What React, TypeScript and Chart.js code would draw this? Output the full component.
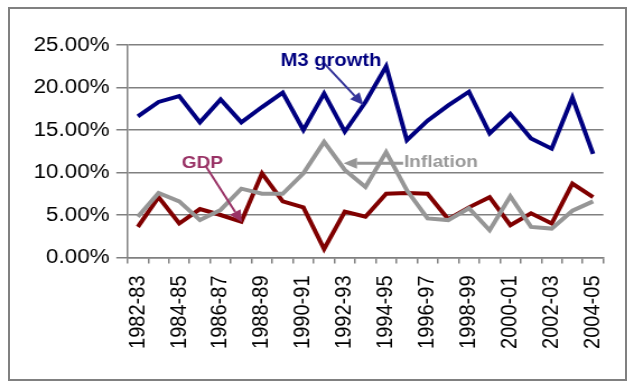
import React, { useEffect, useRef } from 'react';
import { Chart, registerables } from 'chart.js';

Chart.register(...registerables);

const categories = [
  '1982-83', '1983-84', '1984-85', '1985-86', '1986-87', '1987-88', '1988-89', '1989-90',
  '1990-91', '1991-92', '1992-93', '1993-94', '1994-95', '1995-96', '1996-97', '1997-98',
  '1998-99', '1999-00', '2000-01', '2001-02', '2002-03', '2003-04', '2004-05',
];
const m3Growth = [16.6, 18.3, 19.0, 15.9, 18.6, 15.9, 17.7, 19.4, 15.0, 19.3, 14.8, 18.3, 22.5, 13.8, 16.1, 17.9, 19.5, 14.6, 16.9, 14.0, 12.8, 18.8, 12.2];
const inflation = [4.8, 7.6, 6.6, 4.4, 5.6, 8.1, 7.5, 7.5, 9.9, 13.6, 10.3, 8.3, 12.4, 7.9, 4.6, 4.4, 5.8, 3.2, 7.2, 3.6, 3.4, 5.5, 6.6];
const gdp = [3.6, 7.1, 4.0, 5.7, 5.0, 4.2, 9.9, 6.6, 5.9, 1.0, 5.4, 4.8, 7.5, 7.6, 7.5, 4.5, 5.9, 7.1, 3.8, 5.2, 4.0, 8.7, 7.1];
const yMin = 0;
const yMax = 25;
const yStep = 5;

// annotation anchors in data units (category index, percent)
const noteLabels = [
  { text: 'M3 growth', color: '#000080', x: 9.34, y: 23.06, size: 18 },
  { text: 'GDP', color: '#993366', x: 3.12, y: 11.12, size: 17 },
  { text: 'Inflation', color: '#999999', x: 14.65, y: 11.24, size: 17 },
];
const noteArrows = [
  { color: '#333399', width: 2, from: [8.98, 22.9], to: [10.9, 17.94] },
  { color: '#993366', width: 2, from: [3.3, 10.68], to: [5.03, 4.14] },
  { color: '#969696', width: 3, from: [12.82, 11.08], to: [9.94, 11.08] },
];

const FONT = "'Liberation Sans', Arial, Helvetica, sans-serif";
const DISPLAY_W = 634;
const DISPLAY_H = 389;
const STRETCH = 1.12;
const CANVAS_W = Math.round(DISPLAY_W / STRETCH);
const PLOT_LEFT = 127.5 / (DISPLAY_W / CANVAS_W);
const PLOT_RIGHT = 606.5 / (DISPLAY_W / CANVAS_W);
const PLOT_TOP = 45;
const PLOT_BOTTOM = 257.5;

function drawArrow(ctx: CanvasRenderingContext2D, x1: number, y1: number, x2: number, y2: number, color: string, w: number) {
  const ang = Math.atan2(y2 - y1, x2 - x1);
  const head = 12;
  const hw = 5.5;
  const bx = x2 - head * Math.cos(ang);
  const by = y2 - head * Math.sin(ang);
  ctx.save();
  ctx.strokeStyle = color;
  ctx.lineWidth = w;
  ctx.beginPath();
  ctx.moveTo(x1, y1);
  ctx.lineTo(bx, by);
  ctx.stroke();
  ctx.fillStyle = color;
  ctx.beginPath();
  ctx.moveTo(x2, y2);
  ctx.lineTo(bx + hw * Math.sin(ang), by - hw * Math.cos(ang));
  ctx.lineTo(bx - hw * Math.sin(ang), by + hw * Math.cos(ang));
  ctx.closePath();
  ctx.fill();
  ctx.restore();
}

const notesPlugin = {
  id: 'notes',
  afterDatasetsDraw(chart: any) {
    const ctx: CanvasRenderingContext2D = chart.ctx;
    const xs = chart.scales.x;
    const ys = chart.scales.y;
    noteArrows.forEach((a) => {
      drawArrow(
        ctx,
        xs.getPixelForValue(a.from[0]), ys.getPixelForValue(a.from[1]),
        xs.getPixelForValue(a.to[0]), ys.getPixelForValue(a.to[1]),
        a.color, a.width,
      );
    });
    noteLabels.forEach((l) => {
      ctx.save();
      ctx.font = `bold ${l.size}px ${FONT}`;
      ctx.fillStyle = l.color;
      ctx.textAlign = 'center';
      ctx.textBaseline = 'middle';
      ctx.fillText(l.text, xs.getPixelForValue(l.x), ys.getPixelForValue(l.y));
      ctx.restore();
    });
  },
};

export default function App() {
  const ref = useRef<HTMLCanvasElement | null>(null);
  useEffect(() => {
    if (!ref.current) return;
    const chart = new Chart(ref.current, {
      type: 'line',
      data: {
        labels: categories,
        datasets: [
          { label: 'M3 growth', data: m3Growth, borderColor: '#000080', borderWidth: 4, pointRadius: 0, tension: 0 },
          { label: 'Inflation', data: inflation, borderColor: '#969696', borderWidth: 4, pointRadius: 0, tension: 0 },
          { label: 'GDP', data: gdp, borderColor: '#800000', borderWidth: 4, pointRadius: 0, tension: 0 },
        ],
      },
      options: {
        responsive: false,
        animation: false,
        devicePixelRatio: 1,
        layout: { padding: { left: 0, top: PLOT_TOP, right: CANVAS_W - PLOT_RIGHT, bottom: 0 } },
        plugins: { legend: { display: false }, tooltip: { enabled: false }, title: { display: false } },
        scales: {
          x: {
            type: 'category',
            offset: true,
            grid: { display: true, drawOnChartArea: false, drawTicks: true, tickLength: 6, offset: true, color: '#808080', lineWidth: 1.5 },
            border: { display: true, color: '#808080', width: 1.5 },
            ticks: {
              autoSkip: false,
              maxRotation: 90,
              minRotation: 90,
              padding: 12,
              color: '#000000',
              font: { family: FONT, size: 20 },
              callback: (_v: any, i: number) => (i % 2 === 0 ? categories[i] : ''),
            },
            afterFit: (s: any) => { s.height = DISPLAY_H - PLOT_BOTTOM; },
          },
          y: {
            min: yMin,
            max: yMax,
            grid: { color: '#808080', lineWidth: 1.5, drawTicks: true, tickLength: 10 },
            border: { display: true, color: '#808080', width: 1.5 },
            ticks: {
              stepSize: yStep,
              padding: 6,
              color: '#000000',
              font: { family: FONT, size: 20 },
              callback: (v: any) => Number(v).toFixed(2) + '%',
            },
            afterFit: (s: any) => { s.width = PLOT_LEFT; },
          },
        },
      },
      plugins: [notesPlugin],
    } as any);
    return () => chart.destroy();
  }, []);

  return (
    <div style={{ position: 'fixed', left: 0, top: 0, width: DISPLAY_W, height: DISPLAY_H, background: '#ffffff' }}>
      <canvas
        ref={ref}
        width={CANVAS_W}
        height={DISPLAY_H}
        style={{ position: 'absolute', left: 0, top: 0, width: `${DISPLAY_W}px`, height: `${DISPLAY_H}px` }}
      />
      <div
        style={{
          position: 'absolute', left: 8, top: 7, width: 619, height: 374,
          border: '2px solid #808080', boxSizing: 'border-box', pointerEvents: 'none',
        }}
      />
    </div>
  );
}
